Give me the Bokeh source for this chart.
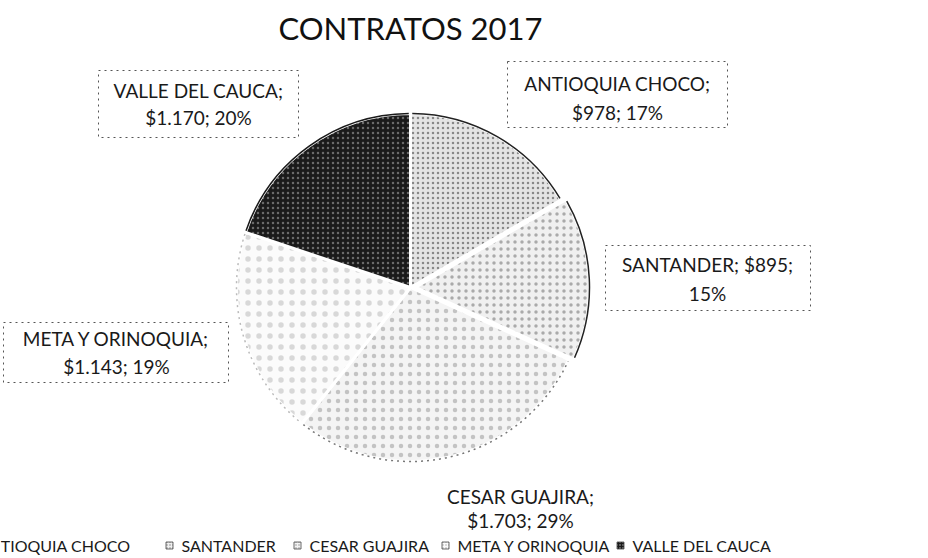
import math
from bokeh.plotting import figure
from bokeh.models import Range1d, ColumnDataSource
from bokeh.core.properties import value
from bokeh.embed import file_html
from bokeh.resources import INLINE

# ---- data ----
title = "CONTRATOS 2017"
categories = ["ANTIOQUIA CHOCO", "SANTANDER", "CESAR GUAJIRA", "META Y ORINOQUIA", "VALLE DEL CAUCA"]
values = [978, 895, 1703, 1143, 1170]
first_line_parts = [1, 2, 1, 1, 1]   # how many "; " parts go on the first label line

# ---- styles ----
fills = ["#e4e4e4", "#f0f0f0", "#f4f4f4", "#fbfbfb", "#1a1a1a"]
hatch_cols = ["#3a3a3a", "#555555", "#666666", "#888888", "#ffffff"]
hatch_scales = [5, 7, 9, 11, 5]
hatch_alphas = [0.55, 0.45, 0.35, 0.3, 0.35]
rim_cols = ["#222222", "#222222", "#777777", "#bbbbbb", "#1a1a1a"]
rim_dash = ["solid", "solid", "dotted", "dotted", "solid"]
explode = [0, 5, 0, 0, 0]
FONT = "Lato"

W, H = 928, 558
def Y(img_y):
    return H - img_y

p = figure(width=W, height=H, output_backend="svg", toolbar_location=None,
           x_range=Range1d(0, W), y_range=Range1d(0, H),
           min_border=0, outline_line_color=None)
p.axis.visible = False
p.grid.visible = False
p.background_fill_color = "white"

# ---- pie ----
total = sum(values)
cx, cy, R = 410, Y(287), 174
cum = 0.0
for i, v in enumerate(values):
    a0 = math.pi / 2 - 2 * math.pi * cum / total
    a1 = math.pi / 2 - 2 * math.pi * (cum + v) / total
    mid = (a0 + a1) / 2
    ox = cx + explode[i] * math.cos(mid)
    oy = cy + explode[i] * math.sin(mid)
    p.wedge(x=[ox], y=[oy], radius=R, start_angle=a0, end_angle=a1, direction="clock",
            fill_color=fills[i], line_color="white", line_width=3,
            hatch_pattern="dot", hatch_color=hatch_cols[i], hatch_scale=hatch_scales[i],
            hatch_alpha=hatch_alphas[i])
    p.arc(x=[ox], y=[oy], radius=R, start_angle=a1 + 0.01, end_angle=a0 - 0.01,
          line_color=rim_cols[i], line_width=1.5, line_dash=rim_dash[i])
    cum += v

# ---- data labels ----
def fmt(v):
    return "$" + f"{v:,}".replace(",", ".")

lab_x = [617, 707, 520, 116, 198]
lab_y1 = [83, 264, 496, 338, 90]
gaps = [29, 29, 24, 28, 27]
boxes = [(507, 727, 61, 127), (605, 810, 245, 310), None, (3, 228, 322, 382), (98, 298, 70, 137)]

l1, l2 = [], []
for i, v in enumerate(values):
    pct = round(100 * v / total)
    parts = [categories[i], fmt(v), f"{pct}%"]
    k = first_line_parts[i]
    l1.append("; ".join(parts[:k]) + ";")
    l2.append("; ".join(parts[k:]))

for b in boxes:
    if b is None:
        continue
    x0, x1, y0, y1 = b
    p.quad(left=[x0], right=[x1], top=[Y(y0)], bottom=[Y(y1)], fill_color=None,
           line_color="#555555", line_width=1, line_dash="dotted")

src = ColumnDataSource(dict(x=lab_x + lab_x,
                            y=[Y(v) for v in lab_y1] + [Y(v + g) for v, g in zip(lab_y1, gaps)],
                            t=l1 + l2))
p.text(x="x", y="y", text="t", source=src, text_align="center", text_baseline="middle",
       text_font=value(FONT), text_font_size="19px", text_color="#1a1a1a")

# ---- title ----
p.text(x=[410], y=[Y(27)], text=[title], text_align="center", text_baseline="middle",
       text_font=value(FONT), text_font_size="31px", text_color="#111111")

# ---- legend ----
leg_text_x = [0, 181, 309, 457, 632]
leg_text_right0 = 130
leg_y = Y(545)
for i, c in enumerate(categories):
    if i == 0:
        p.text(x=[leg_text_right0], y=[leg_y], text=[c], text_align="right", text_baseline="middle",
               text_font=value(FONT), text_font_size="16px", text_color="#1a1a1a")
        continue
    tx = leg_text_x[i]
    p.scatter(x=[tx - 12], y=[leg_y], marker="square", size=7, fill_color=fills[i],
              line_color="#444444", line_width=0.8,
              hatch_pattern="dot", hatch_color=hatch_cols[i], hatch_scale=3, hatch_alpha=0.7)
    p.text(x=[tx], y=[leg_y], text=[c], text_align="left", text_baseline="middle",
           text_font=value(FONT), text_font_size="16px", text_color="#1a1a1a")

open("out.html", "w").write(file_html(p, INLINE))
